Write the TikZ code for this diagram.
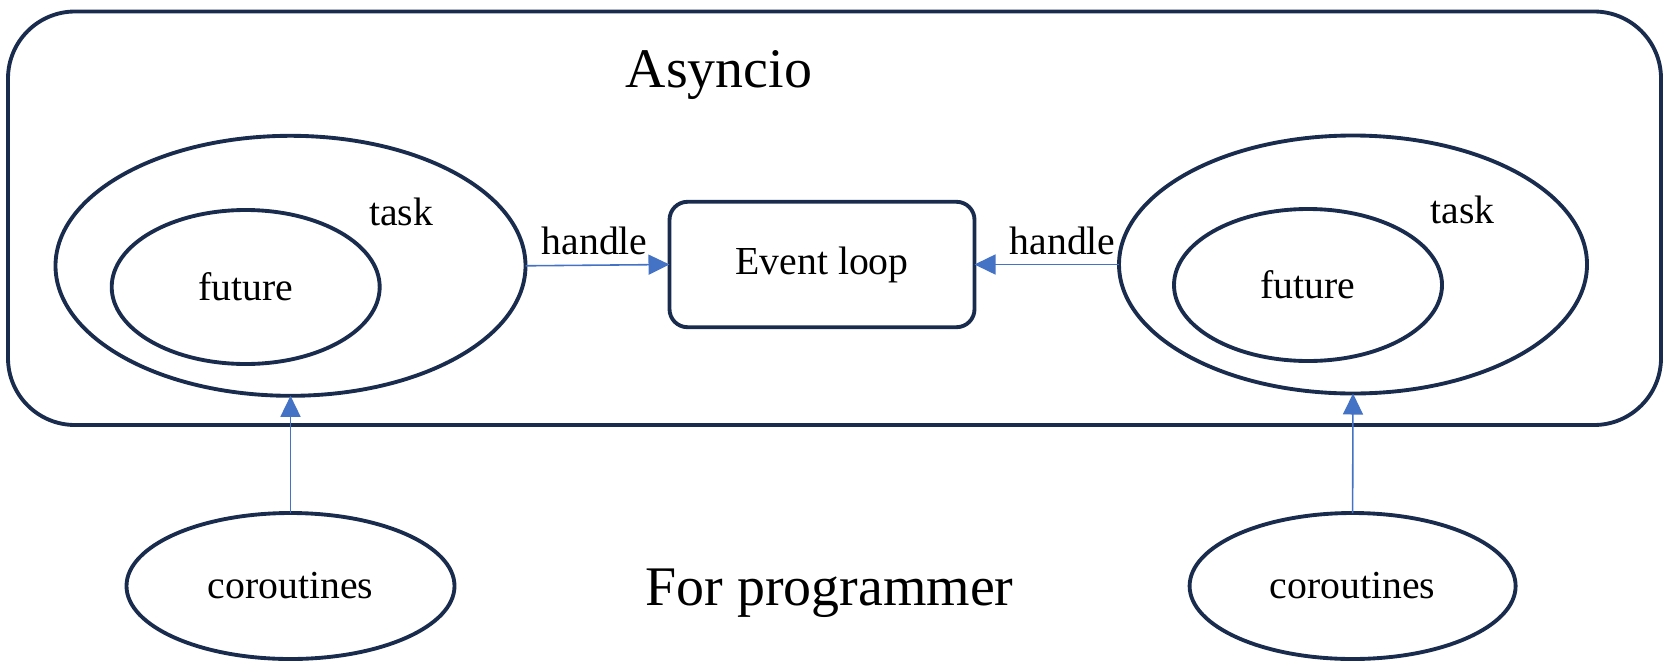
\documentclass[tikz,border=0pt]{standalone}
\usepackage{fontspec}
\setmainfont{Liberation Serif}
\usetikzlibrary{arrows.meta,shapes.geometric}

\definecolor{navy}{HTML}{1A2C4E}
\definecolor{linkblue}{HTML}{4472C4}

\tikzset{
	ring/.style={ellipse,draw=navy,line width=1.1pt,inner sep=0pt,outer sep=0pt,font=\fontsize{11.3}{13}\selectfont},
	loopbox/.style={rectangle,rounded corners=0.18cm,draw=navy,line width=1.1pt,inner sep=0pt,outer sep=0pt,font=\fontsize{11.3}{13}\selectfont},
	flow/.style={draw=linkblue,line width=0.45pt,-{Triangle[length=2.1mm,width=2mm]}},
	small/.style={font=\fontsize{11.3}{13}\selectfont},
	big/.style={font=\fontsize{15.9}{19}\selectfont}
}

\begin{document}
\begin{tikzpicture}
		
		\useasboundingbox (0,0) rectangle (16.75,6.69);
		
		% Outer frame
		\draw[navy,line width=1.1pt,rounded corners=0.67cm] (0.08,2.44) rectangle (16.61,6.575);
		\node[big,anchor=base] (asyncio) at (7.19,5.815) {Asyncio};
		
		% Tasks with their futures
		\node[ring,minimum width=4.70cm,minimum height=2.60cm] (task1) at (2.905,4.032) {};
		\node[ring,minimum width=2.68cm,minimum height=1.54cm] (future1) at (2.457,3.82) {future};
		\node[small,anchor=base] (tasklabel1) at (4.01,4.437) {task};
		
		\node[ring,minimum width=4.68cm,minimum height=2.58cm] (task2) at (13.53,4.045) {};
		\node[ring,minimum width=2.68cm,minimum height=1.52cm] (future2) at (13.08,3.84) {future};
		\node[small,anchor=base] (tasklabel2) at (14.625,4.46) {task};
		
		% Event loop
		\node[loopbox,minimum width=3.05cm,minimum height=1.254cm] (loop) at (8.22,4.045) {Event loop};
		
		\draw[flow] (task1.east) -- node[small,above,pos=0.48,inner sep=2.6pt] {handle} (loop.west);
		\draw[flow] (task2.west) -- node[small,above,pos=0.39,inner sep=2.6pt] {handle} (loop.east);
		
		% Coroutines below
		\node[ring,minimum width=3.28cm,minimum height=1.46cm] (cor1) at (2.905,0.83) {coroutines};
		\node[ring,minimum width=3.26cm,minimum height=1.46cm] (cor2) at (13.526,0.83) {coroutines};
		
		\draw[flow] (cor1.north) -- (task1.south);
		\draw[flow] (cor2.north) -- (task2.south);
		
		\node[big,anchor=base] (prog) at (8.295,0.632) {For programmer};
		
	\end{tikzpicture}
\end{document}
